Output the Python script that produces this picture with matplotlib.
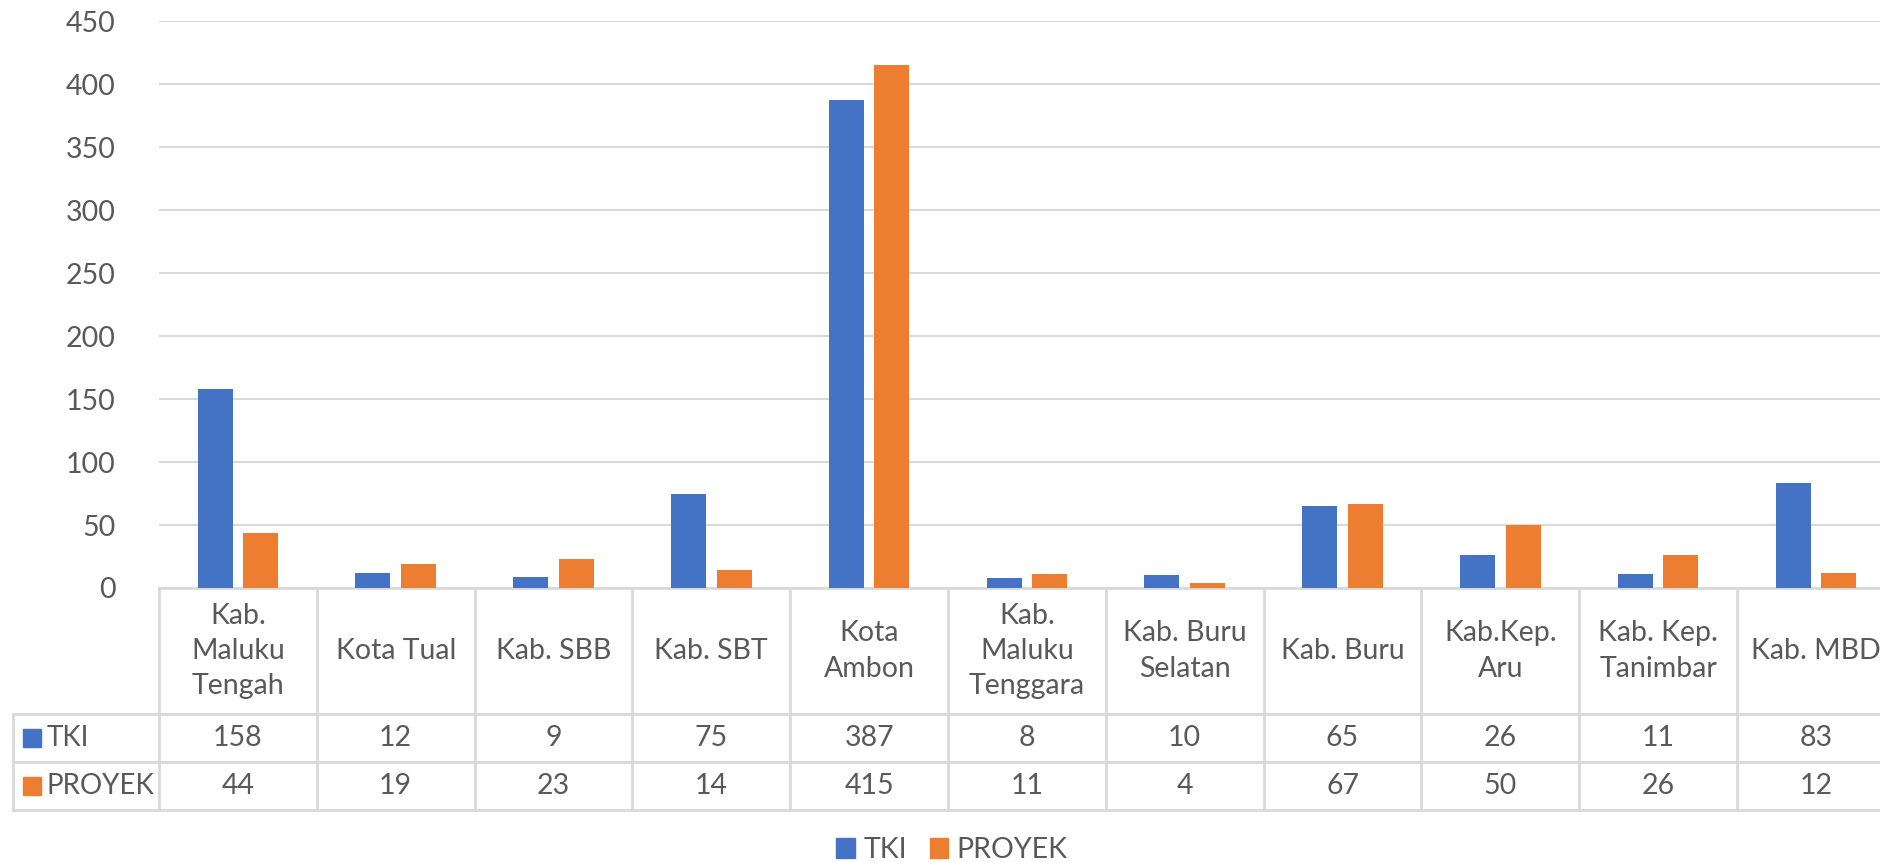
"""
Grouped bar chart of TKI and PROYEK counts per kabupaten/kota,
drawn Excel style with a data table under the category axis.
"""

# Imports
# ----------------------------------------------------------------------
import numpy as np
import matplotlib as mpl
mpl.use("Agg")
import matplotlib.pyplot as plt
import matplotlib.transforms as mtransforms
# ----------------------------------------------------------------------

# Data
# ----------------------------------------------------------------------
CATEGORIES = ["Kab.\nMaluku\nTengah", "Kota Tual", "Kab. SBB", "Kab. SBT",
              "Kota\nAmbon", "Kab.\nMaluku\nTenggara", "Kab. Buru\nSelatan",
              "Kab. Buru", "Kab.Kep.\nAru", "Kab. Kep.\nTanimbar", "Kab. MBD"]
TKI = [158, 12, 9, 75, 387, 8, 10, 65, 26, 11, 83]
PROYEK = [44, 19, 23, 14, 415, 11, 4, 67, 50, 26, 12]
SERIES_NAMES = ["TKI", "PROYEK"]
YTICKS = [0, 50, 100, 150, 200, 250, 300, 350, 400, 450]
# ----------------------------------------------------------------------

# Style constants
# ----------------------------------------------------------------------
W, H = 1881, 863
DPI = 100
BLUE = "#4472C4"
ORANGE = "#ED7D31"
TEXT = "#595959"
GRID = "#D9D9D9"
FONTSIZE = 20.5
BAR_WIDTH = 0.222
BAR_OFFSET = 0.145
# pixel rows of the plot and the data table (from the top)
Y_TOP, Y_ZERO = 21, 588
Y_HEAD, Y_ROW1, Y_ROW2 = 714, 762, 810
X_LEFT, X_TABLE = 159, 13
COL_W = 157.8
# ----------------------------------------------------------------------


def fy(px):
    """pixel row from the top -> figure fraction"""
    return 1 - px / H


def fx(px):
    return px / W


def main():
    plt.rcParams["font.family"] = ["Lato", "DejaVu Sans"]
    fig = plt.figure(figsize=(W / DPI, H / DPI), dpi=DPI)
    right = X_LEFT + COL_W * len(CATEGORIES)
    ax = fig.add_axes([fx(X_LEFT), fy(Y_ZERO), fx(right - X_LEFT),
                       fy(Y_TOP) - fy(Y_ZERO)])
    x = np.arange(len(CATEGORIES))
    ax.bar(x - BAR_OFFSET, TKI, BAR_WIDTH, color=BLUE, zorder=3)
    ax.bar(x + BAR_OFFSET, PROYEK, BAR_WIDTH, color=ORANGE, zorder=3)
    ax.set_xlim(-0.5, len(CATEGORIES) - 0.5)
    ax.set_ylim(0, 450)
    ax.set_yticks(YTICKS)
    ax.set_xticks([])
    ax.tick_params(axis="y", length=0, pad=31, labelsize=FONTSIZE,
                   labelcolor=TEXT)
    ax.yaxis.grid(True, color=GRID, linewidth=1.5)
    for s in ax.spines.values():
        s.set_visible(False)

    # data table: x in data units, y in figure fraction
    trans = mtransforms.blended_transform_factory(ax.transData,
                                                  fig.transFigure)
    x_tab = -0.5 - (X_LEFT - X_TABLE) / COL_W
    line_kw = dict(color=GRID, linewidth=2, transform=trans, clip_on=False)
    ax.plot([-0.5, len(CATEGORIES) - 0.5], [fy(Y_ZERO)] * 2, **line_kw)
    for yy in [Y_HEAD, Y_ROW1, Y_ROW2]:
        ax.plot([x_tab, len(CATEGORIES) - 0.5], [fy(yy)] * 2, **line_kw)
    for i in range(len(CATEGORIES) + 1):
        ax.plot([i - 0.5] * 2, [fy(Y_ZERO), fy(Y_ROW2)], **line_kw)
    ax.plot([x_tab] * 2, [fy(Y_HEAD), fy(Y_ROW2)], **line_kw)

    for i, name in enumerate(CATEGORIES):
        ax.text(i, fy((Y_ZERO + Y_HEAD) / 2), name, transform=trans,
                ha="center", va="center", fontsize=FONTSIZE, color=TEXT,
                linespacing=1.45, multialignment="center")
        ax.text(i, fy((Y_HEAD + Y_ROW1) / 2), str(TKI[i]), transform=trans,
                ha="center", va="center", fontsize=FONTSIZE, color=TEXT)
        ax.text(i, fy((Y_ROW1 + Y_ROW2) / 2), str(PROYEK[i]), transform=trans,
                ha="center", va="center", fontsize=FONTSIZE, color=TEXT)

    # row headers with legend keys
    for (y0, y1), name, col in zip([(Y_HEAD, Y_ROW1), (Y_ROW1, Y_ROW2)],
                                   SERIES_NAMES, [BLUE, ORANGE]):
        yc = (y0 + y1) / 2
        fig.patches.append(plt.Rectangle((fx(23), fy(yc + 9)), fx(18),
                                         fy(yc - 9) - fy(yc + 9),
                                         color=col, transform=fig.transFigure))
        fig.text(fx(47), fy(yc), name, ha="left", va="center",
                 fontsize=FONTSIZE - 0.5, color=TEXT)

    # bottom legend
    handles = [plt.Rectangle((0, 0), 1, 1, color=c) for c in [BLUE, ORANGE]]
    fig.legend(handles, SERIES_NAMES, loc="center", ncol=2,
               bbox_to_anchor=(fx(952), fy(850)), frameon=False,
               fontsize=FONTSIZE, labelcolor=TEXT, handlelength=0.65,
               handleheight=0.65, handletextpad=0.3, columnspacing=0.8)

    fig.savefig("out.png", dpi=DPI)
    return


if __name__ == "__main__":
    main()
